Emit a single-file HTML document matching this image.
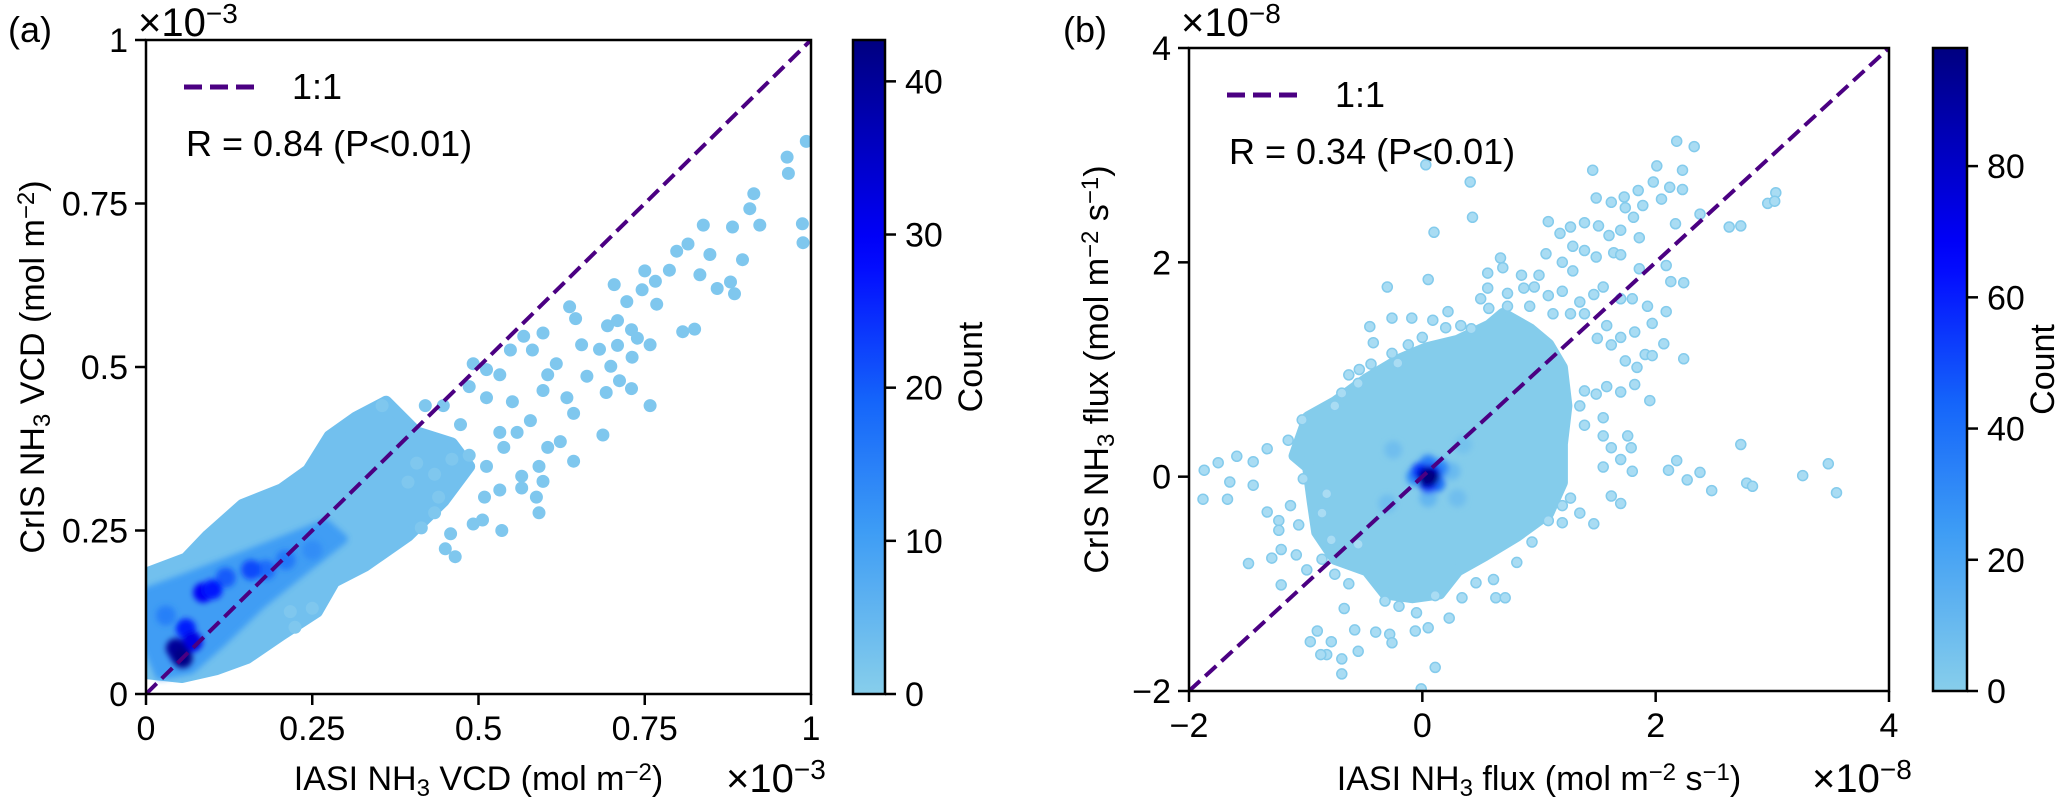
<!DOCTYPE html>
<html><head><meta charset="utf-8">
<style>
html,body{margin:0;padding:0;background:#fff;}
svg{display:block;font-family:"Liberation Sans",Arial,sans-serif;}
</style></head>
<body>
<svg id="fig" width="2067" height="801" viewBox="0 0 2067 801" xmlns="http://www.w3.org/2000/svg"></svg>
<script>
// ---------- Panel (a) data (units of 1e-3 mol m-2) ----------
const aXTicks = [0, 0.25, 0.5, 0.75, 1];
const aXTickLabels = ["0", "0.25", "0.5", "0.75", "1"];
const aYTicks = [0, 0.25, 0.5, 0.75, 1];
const aYTickLabels = ["0", "0.25", "0.5", "0.75", "1"];
const aCbTicks = [0, 10, 20, 30, 40];
const aCbMax = 42.7;
const aCloudX = [0.001,0,0.060,0.093,0.145,0.204,0.244,0.276,0.316,0.361,0.407,0.460,0.486,0.447,0.394,0.329,0.283,0.257,0.204,0.152,0.106,0.054];
const aCloudY = [0.032,0.184,0.207,0.242,0.289,0.313,0.342,0.394,0.423,0.447,0.400,0.383,0.348,0.295,0.242,0.196,0.172,0.126,0.091,0.055,0.038,0.026];
const aCloudCount = 3;
const aMidX = [0,0.054,0.119,0.198,0.27,0.296,0.237,0.172,0.113,0.067,0.021,0];
const aMidY = [0.155,0.175,0.2,0.231,0.26,0.237,0.19,0.137,0.079,0.038,0.029,0.079];
const aMidCount = 11;
const aDenseX = [0.25,0.21,0.18,0.03,0.12,0.158,0.06,0.086,0.1,0.07,0.05,0.045,0.055];
const aDenseY = [0.22,0.205,0.19,0.12,0.178,0.19,0.10,0.155,0.16,0.08,0.061,0.07,0.055];
const aDenseCount = [13,16,18,15,20,22,26,30,27,32,36,40,42];
const aPtX = [0.993,0.964,0.966,0.914,0.908,0.923,0.987,0.988,0.838,0.882,0.815,0.798,0.848,0.897,0.787,0.750,0.766,0.704,0.746,0.833,0.859,0.879,0.885,0.723,0.768,0.637,0.646,0.694,0.709,0.730,0.739,0.597,0.568,0.807,0.825,0.758,0.655,0.682,0.709,0.731,0.548,0.581,0.699,0.663,0.712,0.730,0.692,0.758,0.617,0.604,0.492,0.512,0.532,0.486,0.512,0.551,0.597,0.633,0.643,0.687,0.623,0.643,0.578,0.558,0.538,0.604,0.591,0.565,0.597,0.565,0.532,0.509,0.587,0.591,0.492,0.506,0.535,0.458,0.450,0.465,0.440,0.434,0.414,0.460,0.486,0.512,0.532,0.394,0.407,0.434,0.473,0.447,0.420,0.355,0.217,0.250,0.224];
const aPtY = [0.845,0.821,0.796,0.765,0.742,0.717,0.719,0.690,0.717,0.714,0.688,0.677,0.672,0.664,0.648,0.647,0.631,0.626,0.618,0.641,0.620,0.630,0.612,0.600,0.596,0.592,0.574,0.563,0.571,0.557,0.544,0.552,0.547,0.554,0.558,0.534,0.534,0.527,0.533,0.515,0.526,0.526,0.501,0.486,0.479,0.467,0.461,0.441,0.505,0.488,0.505,0.496,0.488,0.470,0.453,0.447,0.464,0.453,0.429,0.396,0.386,0.356,0.418,0.400,0.377,0.377,0.348,0.333,0.325,0.315,0.312,0.301,0.301,0.277,0.260,0.266,0.250,0.245,0.222,0.210,0.301,0.277,0.254,0.359,0.365,0.348,0.400,0.324,0.353,0.336,0.412,0.441,0.441,0.441,0.126,0.131,0.102];

// ---------- Panel (b) data (units of 1e-8 mol m-2 s-1) ----------
const bXTicks = [-2, 0, 2, 4];
const bXTickLabels = ["\u22122", "0", "2", "4"];
const bYTicks = [-2, 0, 2, 4];
const bYTickLabels = ["\u22122", "0", "2", "4"];
const bCbTicks = [0, 20, 40, 60, 80];
const bCbMax = 98;
const bCloudX = [-0.979,-0.746,-0.474,-0.202,0.031,0.303,0.575,0.691,0.924,1.080,1.196,1.235,1.196,1.196,1.080,0.808,0.536,0.303,0.148,-0.085,-0.318,-0.474,-0.746,-0.901,-0.940,-0.979,-1.095];
const bCloudY = [0.554,0.696,0.911,1.089,1.196,1.268,1.411,1.518,1.375,1.232,1.018,0.661,0.304,-0.054,-0.339,-0.554,-0.732,-0.875,-1.089,-1.125,-1.089,-0.875,-0.768,-0.518,-0.232,0.089,0.196];
const bCloudCount = 1;
const bDenseX = [0.35,-0.3,0.3,-0.25,0.25,0.05,-0.06,0.15,0.05,0.12,-0.02,0.05,0.08,0.02,0.04,0.07,0.05];
const bDenseY = [0.3,-0.25,-0.2,0.25,0.05,-0.2,0.0,0.08,0.12,-0.06,0.05,-0.07,0.03,0.02,-0.02,0.0,0.0];
const bDenseCount = [6,8,8,8,10,12,30,32,34,40,50,55,65,72,85,92,98];
const bPtX = [2.18,2.33,0.03,1.46,2.01,2.23,0.41,1.98,2.12,2.23,1.85,3.03,2.96,3.02,1.49,1.62,1.73,1.74,2.05,1.89,0.43,1.08,1.18,1.27,1.39,1.51,1.60,1.70,1.81,2.17,2.38,2.63,2.73,0.10,1.29,1.39,1.49,1.64,1.70,1.86,2.09,1.86,2.13,2.24,0.67,0.69,1.06,1.20,1.29,0.85,1.00,-0.30,0.05,0.56,0.56,0.73,0.87,0.96,1.08,1.20,1.35,1.47,1.55,1.70,1.80,1.93,2.09,1.97,2.07,2.24,1.91,1.97,1.74,0.50,0.57,0.73,0.92,1.12,1.27,1.39,1.58,1.62,1.70,1.82,1.50,-0.26,-0.09,0.09,0.22,-0.45,0.20,0.33,0.42,-0.42,-0.26,-0.12,0.00,-0.44,-0.63,-0.54,-0.21,-0.55,-0.69,-0.75,-1.03,-1.15,-1.33,-1.45,-1.59,-1.75,-1.87,-1.65,-1.88,-1.67,-1.45,-1.33,-1.23,-1.23,-1.21,-1.29,-1.49,-1.08,-0.99,-0.86,-1.21,-0.75,-0.63,-0.96,-0.78,-0.90,-0.67,-0.58,-0.40,-0.55,-0.28,-0.26,-0.06,0.05,-0.69,-0.82,-0.87,-0.69,0.11,-0.01,-0.32,-0.20,-0.05,0.11,0.23,0.34,0.46,0.61,0.63,0.71,0.81,0.94,1.20,1.47,1.70,1.62,1.80,1.79,1.76,2.73,2.18,2.11,2.27,2.38,2.48,2.78,2.83,3.26,3.48,3.55,1.35,1.39,1.55,1.49,1.58,1.70,1.95,1.82,1.84,1.39,1.55,1.62,1.70,1.55,1.27,1.35,1.08,1.20,-0.55,-0.78,-1.06,-0.86,-0.82,-1.02,-1.13];
const bPtY = [3.13,3.08,2.91,2.86,2.90,2.86,2.75,2.75,2.70,2.68,2.67,2.65,2.55,2.57,2.60,2.56,2.61,2.51,2.59,2.53,2.42,2.38,2.27,2.33,2.37,2.34,2.25,2.30,2.42,2.36,2.45,2.33,2.34,2.28,2.15,2.11,2.05,2.09,2.07,2.23,1.97,1.94,1.82,1.81,2.04,1.95,2.08,2.00,1.92,1.88,1.88,1.77,1.84,1.90,1.76,1.71,1.76,1.77,1.69,1.73,1.63,1.70,1.77,1.66,1.66,1.59,1.54,1.43,1.24,1.10,1.14,1.13,1.08,1.66,1.57,1.59,1.59,1.52,1.52,1.52,1.41,1.23,1.30,1.35,1.29,1.48,1.48,1.46,1.54,1.40,1.39,1.41,1.38,1.25,1.15,1.23,1.30,1.05,0.95,1.00,1.06,0.87,0.78,0.66,0.53,0.34,0.26,0.14,0.19,0.13,0.06,-0.05,-0.21,-0.21,-0.08,-0.33,-0.41,-0.50,-0.68,-0.76,-0.81,-0.73,-0.87,-0.77,-1.01,-0.91,-1.00,-1.54,-1.54,-1.44,-1.23,-1.43,-1.45,-1.63,-1.47,-1.55,-1.44,-1.41,-1.70,-1.66,-1.66,-1.84,-1.78,-1.98,-1.16,-1.21,-1.27,-1.11,-1.32,-1.13,-0.99,-0.96,-1.13,-1.13,-0.80,-0.61,-0.43,-0.44,-0.25,-0.18,0.05,0.27,0.38,0.30,0.15,0.06,-0.03,0.04,-0.13,-0.06,-0.09,0.01,0.12,-0.15,0.66,0.48,0.38,0.77,0.84,0.79,0.71,0.86,1.02,0.80,0.55,0.27,0.16,0.09,-0.20,-0.34,-0.41,-0.27,-0.63,-0.59,-0.45,-0.34,-0.16,-0.02,-0.27];

// ---------- helpers ----------
const NS = "http://www.w3.org/2000/svg";
const svg = document.getElementById("fig");
function mk(tag, attrs, parent) {
  const e = document.createElementNS(NS, tag);
  for (const k in attrs) e.setAttribute(k, attrs[k]);
  (parent || svg).appendChild(e);
  return e;
}
const stops = [[0,[135,206,235]],[0.25,[61,156,245]],[0.45,[20,100,250]],[0.68,[0,0,255]],[1,[0,0,128]]];
function cmap(t) {
  t = Math.max(0, Math.min(1, t));
  for (let i = 1; i < stops.length; i++) {
    if (t <= stops[i][0]) {
      const a = stops[i-1], b = stops[i], f = (t - a[0]) / (b[0] - a[0]);
      const c = a[1].map((v, j) => Math.round(v + (b[1][j] - v) * f));
      return "rgb(" + c.join(",") + ")";
    }
  }
  return "rgb(0,0,128)";
}
function txt(x, y, s, size, anchor, parent, name) {
  const t = mk("text", {x: x, y: y, "font-size": size, "text-anchor": anchor || "start", fill: "#000"}, parent);
  t.innerHTML = s;
  
  
  return t;
}

function panel(cfg) {
  const g = mk("g", {});
  
  
  const L = cfg.L, R = cfg.R, T = cfg.T, B = cfg.B;
  const sx = v => L + (v - cfg.xmin) / (cfg.xmax - cfg.xmin) * (R - L);
  const sy = v => B - (v - cfg.ymin) / (cfg.ymax - cfg.ymin) * (B - T);
  const clipId = cfg.name + "-clip";
  const defs = mk("defs", {}, g);
  const cp = mk("clipPath", {id: clipId}, defs);
  mk("rect", {x: L, y: T, width: R - L, height: B - T}, cp);
  const blurId = cfg.name + "-blur";
  const fl = mk("filter", {id: blurId, x: "-50%", y: "-50%", width: "200%", height: "200%"}, defs);
  mk("feGaussianBlur", {stdDeviation: 3}, fl);
  const plot = mk("g", {"clip-path": "url(#" + clipId + ")"}, g);
  
  

  let pts = cfg.cloudX.map((x, i) => sx(x).toFixed(1) + "," + sy(cfg.cloudY[i]).toFixed(1)).join(" ");
  const cloud = mk("polygon", {points: pts, fill: cmap(cfg.cloudCount / cfg.cbMax), stroke: cmap(cfg.cloudCount / cfg.cbMax), "stroke-width": 12, "stroke-linejoin": "round"}, plot);
  
  
  if (cfg.midX) {
    pts = cfg.midX.map((x, i) => sx(x).toFixed(1) + "," + sy(cfg.midY[i]).toFixed(1)).join(" ");
    const mid = mk("polygon", {points: pts, fill: cmap(cfg.midCount / cfg.cbMax), stroke: cmap(cfg.midCount / cfg.cbMax), "stroke-width": 10, "stroke-linejoin": "round", opacity: 0.9, filter: "url(#" + blurId + ")"}, plot);
    
    
  }
  cfg.ptX.forEach((x, i) => {
    const c = mk("circle", {cx: sx(x).toFixed(1), cy: sy(cfg.ptY[i]).toFixed(1), r: cfg.ptR, fill: cfg.ptFill, stroke: cfg.ptStroke, "stroke-width": cfg.ptStroke === "none" ? 0 : 1.5}, plot);
    
    
  });
  const dg = mk("g", {filter: "url(#" + blurId + ")"}, plot);
  
  
  cfg.denseX.forEach((x, i) => {
    const c = mk("circle", {cx: sx(x).toFixed(1), cy: sy(cfg.denseY[i]).toFixed(1), r: cfg.denseR, fill: cmap(cfg.denseCount[i] / cfg.cbMax)}, dg);
    
    
  });
  const lo = Math.max(cfg.xmin, cfg.ymin), hi = Math.min(cfg.xmax, cfg.ymax);
  const ln = mk("line", {x1: sx(lo), y1: sy(lo), x2: sx(hi), y2: sy(hi), stroke: "#4b0082", "stroke-width": 4, "stroke-dasharray": "15,7"}, plot);
  
  

  const fr = mk("rect", {x: L, y: T, width: R - L, height: B - T, fill: "none", stroke: "#000", "stroke-width": 2.5}, g);
  
  
  cfg.xTicks.forEach((v, i) => {
    mk("line", {x1: sx(v), y1: B, x2: sx(v), y2: B + 11, stroke: "#000", "stroke-width": 2.5}, g);
    txt(sx(v), B + 46, cfg.xTickLabels[i], 34, "middle", g, 'x-tick-label');
  });
  cfg.yTicks.forEach((v, i) => {
    mk("line", {x1: L - 11, y1: sy(v), x2: L, y2: sy(v), stroke: "#000", "stroke-width": 2.5}, g);
    txt(L - 18, sy(v) + 12, cfg.yTickLabels[i], 34, "end", g, 'y-tick-label');
  });
  txt((L + R) / 2, 790, cfg.xTitle, 34, "middle", g, 'x-axis-title');
  const yt = txt(0, 0, cfg.yTitle, 34, "middle", g, 'y-axis-title');
  yt.setAttribute("transform", "translate(" + cfg.yTitleX + "," + ((T + B) / 2) + ") rotate(-90)");
  txt(L - 8, 36, cfg.expText, 40, "start", g, 'y-exponent');
  txt(cfg.xExpX, 792, cfg.expText, 40, "start", g, 'x-exponent');
  txt(cfg.letterX, 42, cfg.letter, 36, "start", g, 'panel-letter');

  const lg = mk("g", {}, g);
  
  
  mk("line", {x1: L + 38, y1: T + 47, x2: L + 114, y2: T + 47, stroke: "#4b0082", "stroke-width": 5, "stroke-dasharray": "18,8"}, lg);
  txt(L + 146, T + 59, "1:1", 36, "start", lg, 'legend-label');
  txt(L + 40, T + 116, cfg.rText, 36, "start", g, 'correlation-annotation');

  const cb = mk("g", {}, g);
  
  
  const gid = cfg.name + "-grad";
  const lgd = mk("linearGradient", {id: gid, x1: 0, y1: 1, x2: 0, y2: 0}, defs);
  for (let k = 0; k <= 20; k++) mk("stop", {offset: k / 20, "stop-color": cmap(k / 20)}, lgd);
  const cbB = cfg.cbB, cbT = cfg.cbT;
  mk("rect", {x: cfg.cbL, y: cbT, width: cfg.cbW, height: cbB - cbT, fill: "url(#" + gid + ")", stroke: "#000", "stroke-width": 2.5}, cb);
  cfg.cbTicks.forEach(v => {
    const y = cbB - v / cfg.cbMax * (cbB - cbT);
    mk("line", {x1: cfg.cbL + cfg.cbW, y1: y, x2: cfg.cbL + cfg.cbW + 11, y2: y, stroke: "#000", "stroke-width": 2.5}, cb);
    txt(cfg.cbL + cfg.cbW + 20, y + 12, String(v), 34, "start", cb, 'colorbar-tick-label');
  });
  const ct = txt(0, 0, "Count", 34, "middle", cb, 'colorbar-title');
  ct.setAttribute("transform", "translate(" + cfg.countX + "," + ((cbT + cbB) / 2) + ") rotate(-90)");
}

panel({
  name: "panel-a", L: 146, R: 811, T: 40, B: 694, xmin: 0, xmax: 1, ymin: 0, ymax: 1,
  xTicks: aXTicks, xTickLabels: aXTickLabels, yTicks: aYTicks, yTickLabels: aYTickLabels,
  cloudX: aCloudX, cloudY: aCloudY, cloudCount: aCloudCount, midX: aMidX, midY: aMidY, midCount: aMidCount,
  denseX: aDenseX, denseY: aDenseY, denseCount: aDenseCount, denseR: 10,
  ptX: aPtX, ptY: aPtY, ptR: 6.5, ptFill: "#7fc7ee", ptStroke: "none",
  cbMax: aCbMax, cbTicks: aCbTicks, cbL: 853, cbW: 32, cbT: 40, cbB: 694, countX: 982,
  xTitle: "IASI NH<tspan baseline-shift='-25%' font-size='24'>3</tspan> VCD (mol m<tspan baseline-shift='40%' font-size='24'>\u22122</tspan>)",
  yTitle: "CrIS NH<tspan baseline-shift='-25%' font-size='24'>3</tspan> VCD (mol m<tspan baseline-shift='40%' font-size='24'>\u22122</tspan>)",
  yTitleX: 44, expText: "\u00d710<tspan baseline-shift='45%' font-size='28'>\u22123</tspan>", xExpX: 726, letter: "(a)", letterX: 8,
  rText: "R = 0.84 (P&lt;0.01)"
});
panel({
  name: "panel-b", L: 1189, R: 1889, T: 48, B: 691, xmin: -2, xmax: 4, ymin: -2, ymax: 4,
  xTicks: bXTicks, xTickLabels: bXTickLabels, yTicks: bYTicks, yTickLabels: bYTickLabels,
  cloudX: bCloudX, cloudY: bCloudY, cloudCount: bCloudCount, midX: null,
  denseX: bDenseX, denseY: bDenseY, denseCount: bDenseCount, denseR: 9,
  ptX: bPtX, ptY: bPtY, ptR: 5, ptFill: "#a9dcf3", ptStroke: "#84cbec",
  cbMax: bCbMax, cbTicks: bCbTicks, cbL: 1933, cbW: 34, cbT: 48, cbB: 691, countX: 2054,
  xTitle: "IASI NH<tspan baseline-shift='-25%' font-size='24'>3</tspan> flux (mol m<tspan baseline-shift='40%' font-size='24'>\u22122</tspan> s<tspan baseline-shift='40%' font-size='24'>\u22121</tspan>)",
  yTitle: "CrIS NH<tspan baseline-shift='-25%' font-size='24'>3</tspan> flux (mol m<tspan baseline-shift='40%' font-size='24'>\u22122</tspan> s<tspan baseline-shift='40%' font-size='24'>\u22121</tspan>)",
  yTitleX: 1108, expText: "\u00d710<tspan baseline-shift='45%' font-size='28'>\u22128</tspan>", xExpX: 1812, letter: "(b)", letterX: 1063,
  rText: "R = 0.34 (P&lt;0.01)"
});
</script>
</body></html>
